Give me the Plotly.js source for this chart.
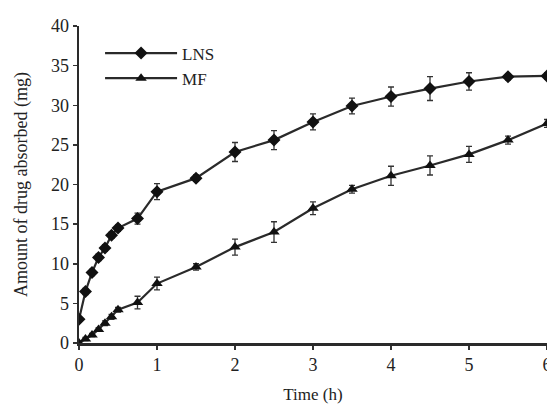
<!DOCTYPE html>
<html>
<head>
<meta charset="utf-8">
<script src="https://cdn.plot.ly/plotly-3.0.1.min.js"></script>
<style>html,body{margin:0;padding:0;background:#fff;}#chart{width:547px;height:408px;}</style>
</head>
<body>
<div id="chart"></div>
<script>
const time = [0, 0.083, 0.167, 0.25, 0.333, 0.417, 0.5, 0.75, 1, 1.5, 2, 2.5, 3, 3.5, 4, 4.5, 5, 5.5, 6];
const lnsValues = [3.0, 6.5, 8.9, 10.8, 12.0, 13.6, 14.5, 15.7, 19.1, 20.8, 24.1, 25.6, 27.9, 29.9, 31.1, 32.1, 33.0, 33.6, 33.7];
const lnsErrors = [0.3, 0.4, 0.4, 0.4, 0.4, 0.4, 0.4, 0.7, 1.0, 0.4, 1.2, 1.2, 1.0, 1.0, 1.2, 1.5, 1.1, 0.4, 0.4];
const mfValues = [0.0, 0.5, 1.0, 1.7, 2.5, 3.3, 4.2, 5.1, 7.5, 9.6, 12.1, 14.0, 17.0, 19.4, 21.1, 22.4, 23.8, 25.6, 27.7];
const mfErrors = [0.1, 0.2, 0.2, 0.2, 0.3, 0.3, 0.3, 0.8, 0.8, 0.4, 1.0, 1.3, 0.8, 0.5, 1.2, 1.2, 1.0, 0.5, 0.5];
const seriesNames = ['LNS', 'MF'];
const xTicks = [0, 1, 2, 3, 4, 5, 6];
const yTicks = [0, 5, 10, 15, 20, 25, 30, 35, 40];

const font = 'Liberation Serif, Times New Roman, serif';
const traces = [
  {
    x: time, y: lnsValues, name: seriesNames[0], type: 'scatter', mode: 'lines+markers',
    line: {color: '#2a2a2a', width: 2.2},
    marker: {symbol: 'diamond', size: 10, color: '#111'},
    error_y: {type: 'data', array: lnsErrors, visible: true, color: '#333', thickness: 1.3, width: 3},
    cliponaxis: true
  },
  {
    x: time, y: mfValues, name: seriesNames[1], type: 'scatter', mode: 'lines+markers',
    line: {color: '#2a2a2a', width: 2.2},
    marker: {symbol: 'triangle-up', size: 10, color: '#111'},
    error_y: {type: 'data', array: mfErrors, visible: true, color: '#333', thickness: 1.3, width: 3},
    cliponaxis: true
  }
];
const layout = {
  width: 547, height: 408,
  margin: {l: 79, r: 0, t: 26, b: 65},
  paper_bgcolor: '#fff', plot_bgcolor: '#fff',
  font: {family: font, color: '#222', size: 17},
  showlegend: true,
  legend: {x: 0.045, y: 0.97, xanchor: 'left', yanchor: 'top', bgcolor: 'rgba(0,0,0,0)',
           font: {family: font, size: 17, color: '#222'}, itemwidth: 72, tracegroupgap: 8},
  xaxis: {
    range: [0, 6], tickvals: xTicks, ticktext: xTicks.map(String),
    showline: true, linecolor: '#2a2a2a', linewidth: 2.5, mirror: false,
    ticks: 'outside', ticklen: 4, tickcolor: '#333', tickwidth: 1.5,
    showgrid: false, zeroline: false, ticklabeloverflow: 'allow',
    tickfont: {family: font, size: 18, color: '#222'},
    title: {text: 'Time (h)', font: {family: font, size: 17, color: '#222'}, standoff: 14}
  },
  yaxis: {
    range: [0, 40], tickvals: yTicks, ticktext: yTicks.map(String),
    showline: true, linecolor: '#2a2a2a', linewidth: 2.5,
    ticks: 'outside', ticklen: 4, tickcolor: '#333', tickwidth: 1.5,
    showgrid: false, zeroline: false,
    tickfont: {family: font, size: 18, color: '#222'},
    title: {text: 'Amount of drug absorbed (mg)', font: {family: font, size: 18, color: '#222'}, standoff: 19}
  }
};
Plotly.newPlot('chart', traces, layout, {displayModeBar: false, staticPlot: true});
</script>
</body>
</html>
